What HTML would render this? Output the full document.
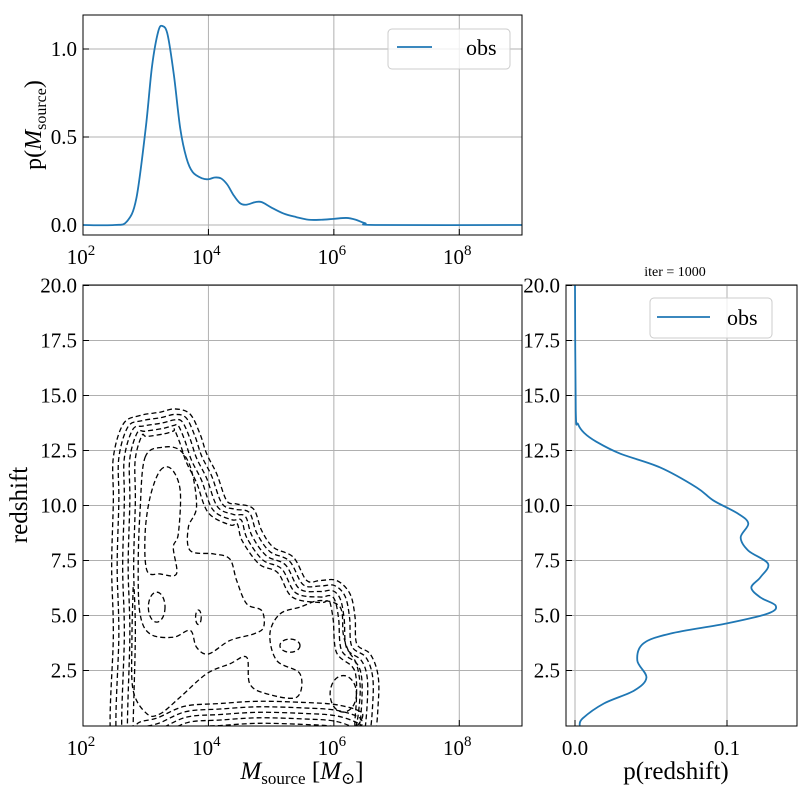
<!DOCTYPE html>
<html><head><meta charset="utf-8"><style>
body{margin:0;background:#fff;}
svg{display:block;font-family:"Liberation Serif","DejaVu Serif",serif;}
</style></head><body>
<svg id="fig" width="800" height="800" viewBox="0 0 800 800"></svg>
<script>
// ---- data ----
const massLogM=[2,2.5,2.7,2.85,3.0,3.1,3.2,3.27,3.35,3.45,3.55,3.65,3.75,3.9,4.0,4.1,4.2,4.3,4.4,4.5,4.6,4.75,4.85,5.0,5.2,5.4,5.6,5.8,6.0,6.2,6.35,6.5,6.7,9];
const massP=[0,0,0.02,0.15,0.55,0.9,1.1,1.13,1.08,0.85,0.55,0.38,0.3,0.265,0.26,0.27,0.265,0.23,0.17,0.125,0.115,0.13,0.13,0.1,0.065,0.045,0.03,0.03,0.035,0.04,0.03,0.01,0,0];
const zVals=[20,14.3,13.7,13.3,12.9,12.36,11.73,10.82,10.23,9.64,9.18,8.55,7.95,7.35,6.74,6.27,5.82,5.45,5.09,4.64,4.18,3.73,2.95,2.18,1.59,1.0,0.32,0.0];
const zP=[0,0.0005,0.002,0.006,0.014,0.0296,0.056,0.080,0.091,0.107,0.114,0.109,0.114,0.127,0.122,0.116,0.122,0.132,0.127,0.100,0.063,0.045,0.041,0.047,0.039,0.019,0.005,0.003];
const massTicks=[2,4,6,8];
const topYTicks=[0,0.5,1.0];
const topYLabels=["0.0","0.5","1.0"];
const zTicks=[2.5,5,7.5,10,12.5,15,17.5,20];
const zLabels=["2.5","5.0","7.5","10.0","12.5","15.0","17.5","20.0"];
const pTicks=[0,0.1];
const pLabels=["0.0","0.1"];
const outerContour=[[2.457,-0.8],[2.484,4.16],[2.457,7.19],[2.484,10.22],[2.484,12.19],[2.643,13.71],[2.909,14.09],[3.228,14.24],[3.467,14.39],[3.706,14.16],[3.866,13.25],[3.972,12.35],[4.132,11.44],[4.291,10.22],[4.451,10.07],[4.716,9.85],[4.849,8.86],[5.035,8.10],[5.354,7.65],[5.567,6.59],[5.780,6.59],[6.046,6.59],[6.258,5.98],[6.338,4.92],[6.365,3.71],[6.577,3.26],[6.700,2.35],[6.710,1.13],[6.630,-0.6],[6.35,-0.4],[6.0,-0.05],[5.5,0.05],[4.8,0.1],[4.2,0.0],[3.7,-0.1],[3.3,-0.6],[2.9,-0.9]];
const contourA=[[2.99,12.19],[3.28,12.65],[3.55,12.5],[3.73,11.59],[3.81,9.92],[3.68,9.01],[3.71,7.95],[4.08,7.80],[4.34,7.57],[4.45,6.59],[4.61,5.53],[4.85,5.22],[4.88,4.47],[4.72,4.16],[4.34,3.86],[4.00,3.25],[3.81,3.56],[3.71,4.32],[3.44,4.01],[3.07,4.16],[2.91,5.07],[2.88,7.19],[2.91,9.77]];
const contourB=[[2.80,6.29],[2.78,3.86],[2.80,1.59],[3.02,0.53],[3.23,0.53],[3.55,1.29],[3.97,2.35],[4.34,2.80],[4.61,3.10],[4.66,1.89],[4.93,1.44],[5.41,1.29],[5.46,2.35],[5.09,2.95],[4.98,4.16],[5.14,5.07],[5.46,5.38],[5.78,5.68],[6.10,5.38],[6.15,4.16],[6.23,3.41],[6.36,2.80],[6.42,1.74],[6.39,0.53],[6.34,-0.23]];
const contourC=[[3.23,11.59],[3.41,11.66],[3.55,10.68],[3.52,8.71],[3.44,8.10],[3.49,6.89],[3.23,6.89],[3.02,7.04],[2.99,8.71],[3.07,10.38]];
const blobCx=[3.175,3.84,5.30,6.15];
const blobCz=[5.38,4.92,3.63,1.44];
const blobRx=[0.133,0.045,0.16,0.21];
const blobRz=[0.68,0.33,0.30,0.83];
const familyLevels=[0,1,2,3,4];

const NS="http://www.w3.org/2000/svg";
const svg=document.getElementById('fig');
function el(tag,attrs,parent){const e=document.createElementNS(NS,tag);for(const k in attrs)e.setAttribute(k,attrs[k]);(parent||svg).appendChild(e);return e;}
function smooth(pts,closed){
  const n=pts.length;let d="M"+pts[0][0].toFixed(2)+","+pts[0][1].toFixed(2);
  const get=i=>closed?pts[(i+n)%n]:pts[Math.max(0,Math.min(n-1,i))];
  const segs=closed?n:n-1;
  for(let i=0;i<segs;i++){const p0=get(i-1),p1=get(i),p2=get(i+1),p3=get(i+2);
    const c1=[p1[0]+(p2[0]-p0[0])/6,p1[1]+(p2[1]-p0[1])/6],c2=[p2[0]-(p3[0]-p1[0])/6,p2[1]-(p3[1]-p1[1])/6];
    d+="C"+c1[0].toFixed(2)+","+c1[1].toFixed(2)+" "+c2[0].toFixed(2)+","+c2[1].toFixed(2)+" "+p2[0].toFixed(2)+","+p2[1].toFixed(2);}
  return d+(closed?"Z":"");
}
function inset(pts,d){
  const n=pts.length;let a=0;
  for(let i=0;i<n;i++){const p=pts[i],q=pts[(i+1)%n];a+=p[0]*q[1]-q[0]*p[1];}
  const s=a>0?1:-1;
  return pts.map((p,i)=>{const pr=pts[(i-1+n)%n],nx=pts[(i+1)%n];
    let tx=nx[0]-pr[0],ty=nx[1]-pr[1];const l=Math.hypot(tx,ty)||1;tx/=l;ty/=l;
    // inward normal for polygon orientation
    const nxv=-ty*s,nyv=tx*s;
    return [p[0]+nxv*d,p[1]+nyv*d];});
}
// ---- axes scales ----
const L=83,R=522;
const xM=v=>L+(v-2)*(R-L)/7;
const yTop=v=>225-v*176;
const yZ=v=>725.5-v*22;
const R2L=566,R2R=797;
const xP=v=>575+v*1520;

const defs=el('defs',{});
const cp1=el('clipPath',{id:'cTop'},defs);el('rect',{x:L,y:15,width:R-L,height:220},cp1);
const cp2=el('clipPath',{id:'cMain'},defs);el('rect',{x:L,y:285,width:R-L,height:441},cp2);
const cp3=el('clipPath',{id:'cRight'},defs);el('rect',{x:R2L,y:285,width:R2R-R2L,height:441},cp3);

function grid(x1,y1,x2,y2,name){const g=el('line',{x1,y1,x2,y2,stroke:'#b0b0b0','stroke-width':1});}
function tickText(x,y,txt,anchor,name,size){const t=el('text',{x,y,'text-anchor':anchor,'font-size':size||21,fill:'#000'});t.textContent=txt;return t;}
function powLabel(x,y,e,name){const t=el('text',{x,y,'text-anchor':'middle','font-size':21,fill:'#000'});
  const a=el('tspan',{},t);a.textContent='10';const b=el('tspan',{dy:-9,'font-size':15},t);b.textContent=String(e);return t;}

// ===== TOP PANEL =====
massTicks.forEach(m=>{grid(xM(m),15,xM(m),235,'top-x-grid-'+m);el('line',{x1:xM(m),y1:235,x2:xM(m),y2:229,stroke:'#000'});powLabel(xM(m)-2,264,m,'top-x-tick-label-'+m);});
topYTicks.forEach((v,i)=>{grid(L,yTop(v),R,yTop(v),'top-y-grid-'+i);el('line',{x1:L,y1:yTop(v),x2:L+6,y2:yTop(v),stroke:'#000'});tickText(L-6,yTop(v)+7,topYLabels[i],'end','top-y-tick-label-'+i);});
{const pts=massLogM.map((m,i)=>[xM(m),yTop(massP[i])]);
 const p=el('path',{d:smooth(pts,false),fill:'none',stroke:'#1f77b4','stroke-width':1.8,'clip-path':'url(#cTop)'});
 }
{const f=el('rect',{x:L,y:15,width:R-L,height:220,fill:'none',stroke:'#000','stroke-width':1});}
{const t=el('text',{x:0,y:0,'font-size':24,'text-anchor':'middle',transform:'translate(41,125) rotate(-90)'});
 t.innerHTML='p(<tspan font-style="italic">M</tspan><tspan font-size="16" dy="5">source</tspan><tspan dy="-5">)</tspan>';}
{const g=el('g',{});
 el('rect',{x:388,y:29,width:122,height:40,rx:4,fill:'rgba(255,255,255,0.8)',stroke:'#ccc'},g);
 el('line',{x1:397,y1:47,x2:432,y2:47,stroke:'#1f77b4','stroke-width':1.8},g);
 const t=el('text',{x:466,y:55,'font-size':22},g);t.textContent='obs';}

// ===== MAIN PANEL =====
massTicks.forEach(m=>{grid(xM(m),285,xM(m),726,'main-x-grid-'+m);el('line',{x1:xM(m),y1:726,x2:xM(m),y2:720,stroke:'#000'});powLabel(xM(m)-2,755,m,'main-x-tick-label-'+m);});
zTicks.forEach((v,i)=>{grid(L,yZ(v),R,yZ(v),'main-y-grid-'+i);el('line',{x1:L,y1:yZ(v),x2:L+6,y2:yZ(v),stroke:'#000'});tickText(L-6,yZ(v)+7,zLabels[i],'end','main-y-tick-label-'+i);});
const cg=el('g',{'clip-path':'url(#cMain)',fill:'none',stroke:'#000','stroke-width':1.3,'stroke-dasharray':'5,3'});

const outerPx=outerContour.map(p=>[xM(p[0]),yZ(p[1])]);
familyLevels.forEach(k=>{
  const pts=k===0?outerPx:inset(outerPx,5.5*k);
  const c=el('path',{d:smooth(pts,true)},cg);
  
});
{const c=el('path',{d:smooth(contourA.map(p=>[xM(p[0]),yZ(p[1])]),true)},cg);}
{const c=el('path',{d:smooth(contourB.map(p=>[xM(p[0]),yZ(p[1])]),false)},cg);}
{const c=el('path',{d:smooth(contourC.map(p=>[xM(p[0]),yZ(p[1])]),true)},cg);}
blobCx.forEach((m,i)=>{const e=el('ellipse',{cx:xM(m),cy:yZ(blobCz[i]),rx:blobRx[i]*(R-L)/7,ry:blobRz[i]*22},cg);
  });
{const f=el('rect',{x:L,y:285,width:R-L,height:441,fill:'none',stroke:'#000','stroke-width':1});}
{const t=el('text',{x:0,y:0,'font-size':25,'text-anchor':'middle',transform:'translate(27,505) rotate(-90)'});t.textContent='redshift';}
{const t=el('text',{x:302,y:779,'font-size':25,'text-anchor':'middle'});
 t.innerHTML='<tspan font-style="italic">M</tspan><tspan font-size="17" dy="5">source</tspan><tspan dy="-5"> [</tspan><tspan font-style="italic">M</tspan><tspan font-size="17" dy="5">⊙</tspan><tspan dy="-5">]</tspan>';}

// ===== RIGHT PANEL =====
pTicks.forEach((v,i)=>{grid(xP(v),285,xP(v),726,'right-x-grid-'+i);el('line',{x1:xP(v),y1:726,x2:xP(v),y2:720,stroke:'#000'});tickText(xP(v),755,pLabels[i],'middle','right-x-tick-label-'+i);});
zTicks.forEach((v,i)=>{grid(R2L,yZ(v),R2R,yZ(v),'right-y-grid-'+i);el('line',{x1:R2L,y1:yZ(v),x2:R2L+6,y2:yZ(v),stroke:'#000'});tickText(R2L-6,yZ(v)+7,zLabels[i],'end','right-y-tick-label-'+i);});
{const pts=zVals.map((z,i)=>[xP(zP[i]),yZ(z)]);
 const p=el('path',{d:smooth(pts,false),fill:'none',stroke:'#1f77b4','stroke-width':1.8,'clip-path':'url(#cRight)'});
 }
{const f=el('rect',{x:R2L,y:285,width:R2R-R2L,height:441,fill:'none',stroke:'#000','stroke-width':1});}
{const g=el('g',{});
 el('rect',{x:650,y:298,width:122,height:40,rx:4,fill:'rgba(255,255,255,0.8)',stroke:'#ccc'},g);
 el('line',{x1:657,y1:317,x2:710,y2:317,stroke:'#1f77b4','stroke-width':1.8},g);
 const t=el('text',{x:727,y:325,'font-size':22},g);t.textContent='obs';}
{const t=el('text',{x:675,y:276,'font-size':14,'text-anchor':'middle'});t.textContent='iter = 1000';}
{const t=el('text',{x:676,y:779,'font-size':25,'text-anchor':'middle'});t.textContent='p(redshift)';}
</script>
</body></html>
